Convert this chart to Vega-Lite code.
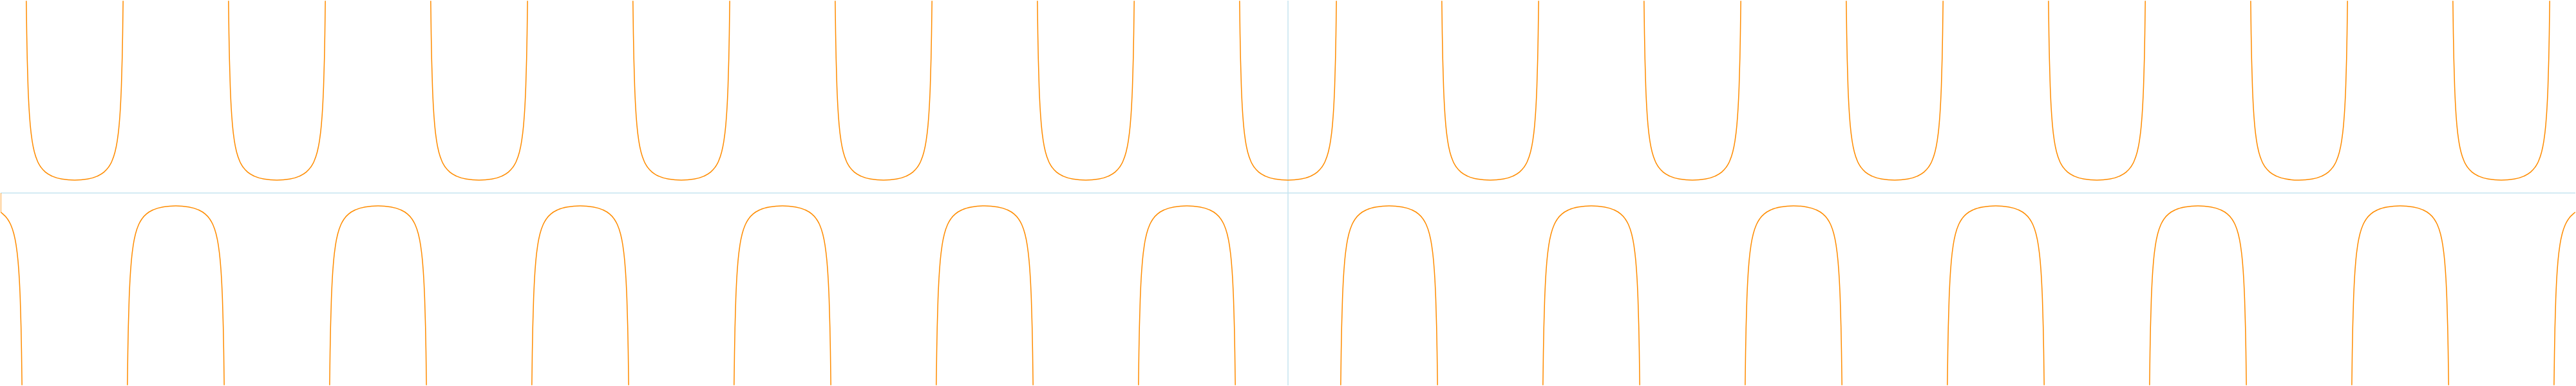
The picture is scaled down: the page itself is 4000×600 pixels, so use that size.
{"$schema":"https://vega.github.io/schema/vega-lite/v6.json","width":4000,"height":600,"autosize":{"type":"fit","contains":"padding"},"padding":0,"background":"white","config":{"view":{"stroke":null}},
"datasets":{"axes":[{"v":0}],"sec":[
{"b":-14,"x":-40,"y":0},{"b":-14,"x":-40,"y":-1.5},
{"b":-13,"x":-40,"y":-1.5},{"b":-13,"x":-39.941,"y":-1.609},{"b":-13,"x":-39.791,"y":-2.01},{"b":-13,"x":-39.691,"y":-2.448},{"b":-13,"x":-39.591,"y":-3.171},{"b":-13,"x":-39.521,"y":-4.029},{"b":-13,"x":-39.461,"y":-5.273},{"b":-13,"x":-39.421,"y":-6.657},{"b":-13,"x":-39.391,"y":-8.299},{"b":-13,"x":-39.366,"y":-10.455},{"b":-13,"x":-39.351,"y":-12.39},{"b":-13,"x":-39.337,"y":-14.982},
{"b":-12,"x":-39.203,"y":14.982},{"b":-12,"x":-39.189,"y":12.39},{"b":-12,"x":-39.174,"y":10.455},{"b":-12,"x":-39.149,"y":8.299},{"b":-12,"x":-39.119,"y":6.657},{"b":-12,"x":-39.079,"y":5.273},{"b":-12,"x":-39.019,"y":4.029},{"b":-12,"x":-38.949,"y":3.171},{"b":-12,"x":-38.849,"y":2.448},{"b":-12,"x":-38.749,"y":2.01},{"b":-12,"x":-38.599,"y":1.609},{"b":-12,"x":-38.399,"y":1.307},{"b":-12,"x":-38.099,"y":1.086},{"b":-12,"x":-37.699,"y":1},{"b":-12,"x":-37.299,"y":1.086},{"b":-12,"x":-36.999,"y":1.307},{"b":-12,"x":-36.799,"y":1.609},{"b":-12,"x":-36.649,"y":2.01},{"b":-12,"x":-36.549,"y":2.448},{"b":-12,"x":-36.449,"y":3.171},{"b":-12,"x":-36.379,"y":4.029},{"b":-12,"x":-36.319,"y":5.273},{"b":-12,"x":-36.279,"y":6.657},{"b":-12,"x":-36.249,"y":8.299},{"b":-12,"x":-36.224,"y":10.455},{"b":-12,"x":-36.209,"y":12.39},{"b":-12,"x":-36.195,"y":14.982},
{"b":-11,"x":-36.062,"y":-14.982},{"b":-11,"x":-36.048,"y":-12.39},{"b":-11,"x":-36.033,"y":-10.455},{"b":-11,"x":-36.008,"y":-8.299},{"b":-11,"x":-35.978,"y":-6.657},{"b":-11,"x":-35.938,"y":-5.273},{"b":-11,"x":-35.878,"y":-4.029},{"b":-11,"x":-35.808,"y":-3.171},{"b":-11,"x":-35.708,"y":-2.448},{"b":-11,"x":-35.608,"y":-2.01},{"b":-11,"x":-35.458,"y":-1.609},{"b":-11,"x":-35.258,"y":-1.307},{"b":-11,"x":-34.958,"y":-1.086},{"b":-11,"x":-34.558,"y":-1},{"b":-11,"x":-34.158,"y":-1.086},{"b":-11,"x":-33.858,"y":-1.307},{"b":-11,"x":-33.658,"y":-1.609},{"b":-11,"x":-33.508,"y":-2.01},{"b":-11,"x":-33.408,"y":-2.448},{"b":-11,"x":-33.308,"y":-3.171},{"b":-11,"x":-33.238,"y":-4.029},{"b":-11,"x":-33.178,"y":-5.273},{"b":-11,"x":-33.138,"y":-6.657},{"b":-11,"x":-33.108,"y":-8.299},{"b":-11,"x":-33.083,"y":-10.455},{"b":-11,"x":-33.068,"y":-12.39},{"b":-11,"x":-33.054,"y":-14.982},
{"b":-10,"x":-32.92,"y":14.982},{"b":-10,"x":-32.906,"y":12.39},{"b":-10,"x":-32.891,"y":10.455},{"b":-10,"x":-32.866,"y":8.299},{"b":-10,"x":-32.836,"y":6.657},{"b":-10,"x":-32.796,"y":5.273},{"b":-10,"x":-32.736,"y":4.029},{"b":-10,"x":-32.666,"y":3.171},{"b":-10,"x":-32.566,"y":2.448},{"b":-10,"x":-32.466,"y":2.01},{"b":-10,"x":-32.316,"y":1.609},{"b":-10,"x":-32.116,"y":1.307},{"b":-10,"x":-31.816,"y":1.086},{"b":-10,"x":-31.416,"y":1},{"b":-10,"x":-31.016,"y":1.086},{"b":-10,"x":-30.716,"y":1.307},{"b":-10,"x":-30.516,"y":1.609},{"b":-10,"x":-30.366,"y":2.01},{"b":-10,"x":-30.266,"y":2.448},{"b":-10,"x":-30.166,"y":3.171},{"b":-10,"x":-30.096,"y":4.029},{"b":-10,"x":-30.036,"y":5.273},{"b":-10,"x":-29.996,"y":6.657},{"b":-10,"x":-29.966,"y":8.299},{"b":-10,"x":-29.941,"y":10.455},{"b":-10,"x":-29.926,"y":12.39},{"b":-10,"x":-29.912,"y":14.982},
{"b":-9,"x":-29.778,"y":-14.982},{"b":-9,"x":-29.764,"y":-12.39},{"b":-9,"x":-29.749,"y":-10.455},{"b":-9,"x":-29.724,"y":-8.299},{"b":-9,"x":-29.694,"y":-6.657},{"b":-9,"x":-29.654,"y":-5.273},{"b":-9,"x":-29.594,"y":-4.029},{"b":-9,"x":-29.524,"y":-3.171},{"b":-9,"x":-29.424,"y":-2.448},{"b":-9,"x":-29.324,"y":-2.01},{"b":-9,"x":-29.174,"y":-1.609},{"b":-9,"x":-28.974,"y":-1.307},{"b":-9,"x":-28.674,"y":-1.086},{"b":-9,"x":-28.274,"y":-1},{"b":-9,"x":-27.874,"y":-1.086},{"b":-9,"x":-27.574,"y":-1.307},{"b":-9,"x":-27.374,"y":-1.609},{"b":-9,"x":-27.224,"y":-2.01},{"b":-9,"x":-27.124,"y":-2.448},{"b":-9,"x":-27.024,"y":-3.171},{"b":-9,"x":-26.954,"y":-4.029},{"b":-9,"x":-26.894,"y":-5.273},{"b":-9,"x":-26.854,"y":-6.657},{"b":-9,"x":-26.824,"y":-8.299},{"b":-9,"x":-26.799,"y":-10.455},{"b":-9,"x":-26.784,"y":-12.39},{"b":-9,"x":-26.77,"y":-14.982},
{"b":-8,"x":-26.637,"y":14.982},{"b":-8,"x":-26.623,"y":12.39},{"b":-8,"x":-26.608,"y":10.455},{"b":-8,"x":-26.583,"y":8.299},{"b":-8,"x":-26.553,"y":6.657},{"b":-8,"x":-26.513,"y":5.273},{"b":-8,"x":-26.453,"y":4.029},{"b":-8,"x":-26.383,"y":3.171},{"b":-8,"x":-26.283,"y":2.448},{"b":-8,"x":-26.183,"y":2.01},{"b":-8,"x":-26.033,"y":1.609},{"b":-8,"x":-25.833,"y":1.307},{"b":-8,"x":-25.533,"y":1.086},{"b":-8,"x":-25.133,"y":1},{"b":-8,"x":-24.733,"y":1.086},{"b":-8,"x":-24.433,"y":1.307},{"b":-8,"x":-24.233,"y":1.609},{"b":-8,"x":-24.083,"y":2.01},{"b":-8,"x":-23.983,"y":2.448},{"b":-8,"x":-23.883,"y":3.171},{"b":-8,"x":-23.813,"y":4.029},{"b":-8,"x":-23.753,"y":5.273},{"b":-8,"x":-23.713,"y":6.657},{"b":-8,"x":-23.683,"y":8.299},{"b":-8,"x":-23.658,"y":10.455},{"b":-8,"x":-23.643,"y":12.39},{"b":-8,"x":-23.629,"y":14.982},
{"b":-7,"x":-23.495,"y":-14.982},{"b":-7,"x":-23.481,"y":-12.39},{"b":-7,"x":-23.466,"y":-10.455},{"b":-7,"x":-23.441,"y":-8.299},{"b":-7,"x":-23.411,"y":-6.657},{"b":-7,"x":-23.371,"y":-5.273},{"b":-7,"x":-23.311,"y":-4.029},{"b":-7,"x":-23.241,"y":-3.171},{"b":-7,"x":-23.141,"y":-2.448},{"b":-7,"x":-23.041,"y":-2.01},{"b":-7,"x":-22.891,"y":-1.609},{"b":-7,"x":-22.691,"y":-1.307},{"b":-7,"x":-22.391,"y":-1.086},{"b":-7,"x":-21.991,"y":-1},{"b":-7,"x":-21.591,"y":-1.086},{"b":-7,"x":-21.291,"y":-1.307},{"b":-7,"x":-21.091,"y":-1.609},{"b":-7,"x":-20.941,"y":-2.01},{"b":-7,"x":-20.841,"y":-2.448},{"b":-7,"x":-20.741,"y":-3.171},{"b":-7,"x":-20.671,"y":-4.029},{"b":-7,"x":-20.611,"y":-5.273},{"b":-7,"x":-20.571,"y":-6.657},{"b":-7,"x":-20.541,"y":-8.299},{"b":-7,"x":-20.516,"y":-10.455},{"b":-7,"x":-20.501,"y":-12.39},{"b":-7,"x":-20.487,"y":-14.982},
{"b":-6,"x":-20.354,"y":14.982},{"b":-6,"x":-20.34,"y":12.39},{"b":-6,"x":-20.325,"y":10.455},{"b":-6,"x":-20.3,"y":8.299},{"b":-6,"x":-20.27,"y":6.657},{"b":-6,"x":-20.23,"y":5.273},{"b":-6,"x":-20.17,"y":4.029},{"b":-6,"x":-20.1,"y":3.171},{"b":-6,"x":-20.0,"y":2.448},{"b":-6,"x":-19.9,"y":2.01},{"b":-6,"x":-19.75,"y":1.609},{"b":-6,"x":-19.55,"y":1.307},{"b":-6,"x":-19.25,"y":1.086},{"b":-6,"x":-18.85,"y":1},{"b":-6,"x":-18.45,"y":1.086},{"b":-6,"x":-18.15,"y":1.307},{"b":-6,"x":-17.95,"y":1.609},{"b":-6,"x":-17.8,"y":2.01},{"b":-6,"x":-17.7,"y":2.448},{"b":-6,"x":-17.6,"y":3.171},{"b":-6,"x":-17.53,"y":4.029},{"b":-6,"x":-17.47,"y":5.273},{"b":-6,"x":-17.43,"y":6.657},{"b":-6,"x":-17.4,"y":8.299},{"b":-6,"x":-17.375,"y":10.455},{"b":-6,"x":-17.36,"y":12.39},{"b":-6,"x":-17.346,"y":14.982},
{"b":-5,"x":-17.212,"y":-14.982},{"b":-5,"x":-17.198,"y":-12.39},{"b":-5,"x":-17.183,"y":-10.455},{"b":-5,"x":-17.158,"y":-8.299},{"b":-5,"x":-17.128,"y":-6.657},{"b":-5,"x":-17.088,"y":-5.273},{"b":-5,"x":-17.028,"y":-4.029},{"b":-5,"x":-16.958,"y":-3.171},{"b":-5,"x":-16.858,"y":-2.448},{"b":-5,"x":-16.758,"y":-2.01},{"b":-5,"x":-16.608,"y":-1.609},{"b":-5,"x":-16.408,"y":-1.307},{"b":-5,"x":-16.108,"y":-1.086},{"b":-5,"x":-15.708,"y":-1},{"b":-5,"x":-15.308,"y":-1.086},{"b":-5,"x":-15.008,"y":-1.307},{"b":-5,"x":-14.808,"y":-1.609},{"b":-5,"x":-14.658,"y":-2.01},{"b":-5,"x":-14.558,"y":-2.448},{"b":-5,"x":-14.458,"y":-3.171},{"b":-5,"x":-14.388,"y":-4.029},{"b":-5,"x":-14.328,"y":-5.273},{"b":-5,"x":-14.288,"y":-6.657},{"b":-5,"x":-14.258,"y":-8.299},{"b":-5,"x":-14.233,"y":-10.455},{"b":-5,"x":-14.218,"y":-12.39},{"b":-5,"x":-14.204,"y":-14.982},
{"b":-4,"x":-14.07,"y":14.982},{"b":-4,"x":-14.056,"y":12.39},{"b":-4,"x":-14.041,"y":10.455},{"b":-4,"x":-14.016,"y":8.299},{"b":-4,"x":-13.986,"y":6.657},{"b":-4,"x":-13.946,"y":5.273},{"b":-4,"x":-13.886,"y":4.029},{"b":-4,"x":-13.816,"y":3.171},{"b":-4,"x":-13.716,"y":2.448},{"b":-4,"x":-13.616,"y":2.01},{"b":-4,"x":-13.466,"y":1.609},{"b":-4,"x":-13.266,"y":1.307},{"b":-4,"x":-12.966,"y":1.086},{"b":-4,"x":-12.566,"y":1},{"b":-4,"x":-12.166,"y":1.086},{"b":-4,"x":-11.866,"y":1.307},{"b":-4,"x":-11.666,"y":1.609},{"b":-4,"x":-11.516,"y":2.01},{"b":-4,"x":-11.416,"y":2.448},{"b":-4,"x":-11.316,"y":3.171},{"b":-4,"x":-11.246,"y":4.029},{"b":-4,"x":-11.186,"y":5.273},{"b":-4,"x":-11.146,"y":6.657},{"b":-4,"x":-11.116,"y":8.299},{"b":-4,"x":-11.091,"y":10.455},{"b":-4,"x":-11.076,"y":12.39},{"b":-4,"x":-11.062,"y":14.982},
{"b":-3,"x":-10.929,"y":-14.982},{"b":-3,"x":-10.915,"y":-12.39},{"b":-3,"x":-10.9,"y":-10.455},{"b":-3,"x":-10.875,"y":-8.299},{"b":-3,"x":-10.845,"y":-6.657},{"b":-3,"x":-10.805,"y":-5.273},{"b":-3,"x":-10.745,"y":-4.029},{"b":-3,"x":-10.675,"y":-3.171},{"b":-3,"x":-10.575,"y":-2.448},{"b":-3,"x":-10.475,"y":-2.01},{"b":-3,"x":-10.325,"y":-1.609},{"b":-3,"x":-10.125,"y":-1.307},{"b":-3,"x":-9.825,"y":-1.086},{"b":-3,"x":-9.425,"y":-1},{"b":-3,"x":-9.025,"y":-1.086},{"b":-3,"x":-8.725,"y":-1.307},{"b":-3,"x":-8.525,"y":-1.609},{"b":-3,"x":-8.375,"y":-2.01},{"b":-3,"x":-8.275,"y":-2.448},{"b":-3,"x":-8.175,"y":-3.171},{"b":-3,"x":-8.105,"y":-4.029},{"b":-3,"x":-8.045,"y":-5.273},{"b":-3,"x":-8.005,"y":-6.657},{"b":-3,"x":-7.975,"y":-8.299},{"b":-3,"x":-7.95,"y":-10.455},{"b":-3,"x":-7.935,"y":-12.39},{"b":-3,"x":-7.921,"y":-14.982},
{"b":-2,"x":-7.787,"y":14.982},{"b":-2,"x":-7.773,"y":12.39},{"b":-2,"x":-7.758,"y":10.455},{"b":-2,"x":-7.733,"y":8.299},{"b":-2,"x":-7.703,"y":6.657},{"b":-2,"x":-7.663,"y":5.273},{"b":-2,"x":-7.603,"y":4.029},{"b":-2,"x":-7.533,"y":3.171},{"b":-2,"x":-7.433,"y":2.448},{"b":-2,"x":-7.333,"y":2.01},{"b":-2,"x":-7.183,"y":1.609},{"b":-2,"x":-6.983,"y":1.307},{"b":-2,"x":-6.683,"y":1.086},{"b":-2,"x":-6.283,"y":1},{"b":-2,"x":-5.883,"y":1.086},{"b":-2,"x":-5.583,"y":1.307},{"b":-2,"x":-5.383,"y":1.609},{"b":-2,"x":-5.233,"y":2.01},{"b":-2,"x":-5.133,"y":2.448},{"b":-2,"x":-5.033,"y":3.171},{"b":-2,"x":-4.963,"y":4.029},{"b":-2,"x":-4.903,"y":5.273},{"b":-2,"x":-4.863,"y":6.657},{"b":-2,"x":-4.833,"y":8.299},{"b":-2,"x":-4.808,"y":10.455},{"b":-2,"x":-4.793,"y":12.39},{"b":-2,"x":-4.779,"y":14.982},
{"b":-1,"x":-4.646,"y":-14.982},{"b":-1,"x":-4.632,"y":-12.39},{"b":-1,"x":-4.617,"y":-10.455},{"b":-1,"x":-4.592,"y":-8.299},{"b":-1,"x":-4.562,"y":-6.657},{"b":-1,"x":-4.522,"y":-5.273},{"b":-1,"x":-4.462,"y":-4.029},{"b":-1,"x":-4.392,"y":-3.171},{"b":-1,"x":-4.292,"y":-2.448},{"b":-1,"x":-4.192,"y":-2.01},{"b":-1,"x":-4.042,"y":-1.609},{"b":-1,"x":-3.842,"y":-1.307},{"b":-1,"x":-3.542,"y":-1.086},{"b":-1,"x":-3.142,"y":-1},{"b":-1,"x":-2.742,"y":-1.086},{"b":-1,"x":-2.442,"y":-1.307},{"b":-1,"x":-2.242,"y":-1.609},{"b":-1,"x":-2.092,"y":-2.01},{"b":-1,"x":-1.992,"y":-2.448},{"b":-1,"x":-1.892,"y":-3.171},{"b":-1,"x":-1.822,"y":-4.029},{"b":-1,"x":-1.762,"y":-5.273},{"b":-1,"x":-1.722,"y":-6.657},{"b":-1,"x":-1.692,"y":-8.299},{"b":-1,"x":-1.667,"y":-10.455},{"b":-1,"x":-1.652,"y":-12.39},{"b":-1,"x":-1.638,"y":-14.982},
{"b":0,"x":-1.504,"y":14.982},{"b":0,"x":-1.49,"y":12.39},{"b":0,"x":-1.475,"y":10.455},{"b":0,"x":-1.45,"y":8.299},{"b":0,"x":-1.42,"y":6.657},{"b":0,"x":-1.38,"y":5.273},{"b":0,"x":-1.32,"y":4.029},{"b":0,"x":-1.25,"y":3.171},{"b":0,"x":-1.15,"y":2.448},{"b":0,"x":-1.05,"y":2.01},{"b":0,"x":-0.9,"y":1.609},{"b":0,"x":-0.7,"y":1.307},{"b":0,"x":-0.4,"y":1.086},{"b":0,"x":0,"y":1},{"b":0,"x":0.4,"y":1.086},{"b":0,"x":0.7,"y":1.307},{"b":0,"x":0.9,"y":1.609},{"b":0,"x":1.05,"y":2.01},{"b":0,"x":1.15,"y":2.448},{"b":0,"x":1.25,"y":3.171},{"b":0,"x":1.32,"y":4.029},{"b":0,"x":1.38,"y":5.273},{"b":0,"x":1.42,"y":6.657},{"b":0,"x":1.45,"y":8.299},{"b":0,"x":1.475,"y":10.455},{"b":0,"x":1.49,"y":12.39},{"b":0,"x":1.504,"y":14.982},
{"b":1,"x":1.638,"y":-14.982},{"b":1,"x":1.652,"y":-12.39},{"b":1,"x":1.667,"y":-10.455},{"b":1,"x":1.692,"y":-8.299},{"b":1,"x":1.722,"y":-6.657},{"b":1,"x":1.762,"y":-5.273},{"b":1,"x":1.822,"y":-4.029},{"b":1,"x":1.892,"y":-3.171},{"b":1,"x":1.992,"y":-2.448},{"b":1,"x":2.092,"y":-2.01},{"b":1,"x":2.242,"y":-1.609},{"b":1,"x":2.442,"y":-1.307},{"b":1,"x":2.742,"y":-1.086},{"b":1,"x":3.142,"y":-1},{"b":1,"x":3.542,"y":-1.086},{"b":1,"x":3.842,"y":-1.307},{"b":1,"x":4.042,"y":-1.609},{"b":1,"x":4.192,"y":-2.01},{"b":1,"x":4.292,"y":-2.448},{"b":1,"x":4.392,"y":-3.171},{"b":1,"x":4.462,"y":-4.029},{"b":1,"x":4.522,"y":-5.273},{"b":1,"x":4.562,"y":-6.657},{"b":1,"x":4.592,"y":-8.299},{"b":1,"x":4.617,"y":-10.455},{"b":1,"x":4.632,"y":-12.39},{"b":1,"x":4.646,"y":-14.982},
{"b":2,"x":4.779,"y":14.982},{"b":2,"x":4.793,"y":12.39},{"b":2,"x":4.808,"y":10.455},{"b":2,"x":4.833,"y":8.299},{"b":2,"x":4.863,"y":6.657},{"b":2,"x":4.903,"y":5.273},{"b":2,"x":4.963,"y":4.029},{"b":2,"x":5.033,"y":3.171},{"b":2,"x":5.133,"y":2.448},{"b":2,"x":5.233,"y":2.01},{"b":2,"x":5.383,"y":1.609},{"b":2,"x":5.583,"y":1.307},{"b":2,"x":5.883,"y":1.086},{"b":2,"x":6.283,"y":1},{"b":2,"x":6.683,"y":1.086},{"b":2,"x":6.983,"y":1.307},{"b":2,"x":7.183,"y":1.609},{"b":2,"x":7.333,"y":2.01},{"b":2,"x":7.433,"y":2.448},{"b":2,"x":7.533,"y":3.171},{"b":2,"x":7.603,"y":4.029},{"b":2,"x":7.663,"y":5.273},{"b":2,"x":7.703,"y":6.657},{"b":2,"x":7.733,"y":8.299},{"b":2,"x":7.758,"y":10.455},{"b":2,"x":7.773,"y":12.39},{"b":2,"x":7.787,"y":14.982},
{"b":3,"x":7.921,"y":-14.982},{"b":3,"x":7.935,"y":-12.39},{"b":3,"x":7.95,"y":-10.455},{"b":3,"x":7.975,"y":-8.299},{"b":3,"x":8.005,"y":-6.657},{"b":3,"x":8.045,"y":-5.273},{"b":3,"x":8.105,"y":-4.029},{"b":3,"x":8.175,"y":-3.171},{"b":3,"x":8.275,"y":-2.448},{"b":3,"x":8.375,"y":-2.01},{"b":3,"x":8.525,"y":-1.609},{"b":3,"x":8.725,"y":-1.307},{"b":3,"x":9.025,"y":-1.086},{"b":3,"x":9.425,"y":-1},{"b":3,"x":9.825,"y":-1.086},{"b":3,"x":10.125,"y":-1.307},{"b":3,"x":10.325,"y":-1.609},{"b":3,"x":10.475,"y":-2.01},{"b":3,"x":10.575,"y":-2.448},{"b":3,"x":10.675,"y":-3.171},{"b":3,"x":10.745,"y":-4.029},{"b":3,"x":10.805,"y":-5.273},{"b":3,"x":10.845,"y":-6.657},{"b":3,"x":10.875,"y":-8.299},{"b":3,"x":10.9,"y":-10.455},{"b":3,"x":10.915,"y":-12.39},{"b":3,"x":10.929,"y":-14.982},
{"b":4,"x":11.062,"y":14.982},{"b":4,"x":11.076,"y":12.39},{"b":4,"x":11.091,"y":10.455},{"b":4,"x":11.116,"y":8.299},{"b":4,"x":11.146,"y":6.657},{"b":4,"x":11.186,"y":5.273},{"b":4,"x":11.246,"y":4.029},{"b":4,"x":11.316,"y":3.171},{"b":4,"x":11.416,"y":2.448},{"b":4,"x":11.516,"y":2.01},{"b":4,"x":11.666,"y":1.609},{"b":4,"x":11.866,"y":1.307},{"b":4,"x":12.166,"y":1.086},{"b":4,"x":12.566,"y":1},{"b":4,"x":12.966,"y":1.086},{"b":4,"x":13.266,"y":1.307},{"b":4,"x":13.466,"y":1.609},{"b":4,"x":13.616,"y":2.01},{"b":4,"x":13.716,"y":2.448},{"b":4,"x":13.816,"y":3.171},{"b":4,"x":13.886,"y":4.029},{"b":4,"x":13.946,"y":5.273},{"b":4,"x":13.986,"y":6.657},{"b":4,"x":14.016,"y":8.299},{"b":4,"x":14.041,"y":10.455},{"b":4,"x":14.056,"y":12.39},{"b":4,"x":14.07,"y":14.982},
{"b":5,"x":14.204,"y":-14.982},{"b":5,"x":14.218,"y":-12.39},{"b":5,"x":14.233,"y":-10.455},{"b":5,"x":14.258,"y":-8.299},{"b":5,"x":14.288,"y":-6.657},{"b":5,"x":14.328,"y":-5.273},{"b":5,"x":14.388,"y":-4.029},{"b":5,"x":14.458,"y":-3.171},{"b":5,"x":14.558,"y":-2.448},{"b":5,"x":14.658,"y":-2.01},{"b":5,"x":14.808,"y":-1.609},{"b":5,"x":15.008,"y":-1.307},{"b":5,"x":15.308,"y":-1.086},{"b":5,"x":15.708,"y":-1},{"b":5,"x":16.108,"y":-1.086},{"b":5,"x":16.408,"y":-1.307},{"b":5,"x":16.608,"y":-1.609},{"b":5,"x":16.758,"y":-2.01},{"b":5,"x":16.858,"y":-2.448},{"b":5,"x":16.958,"y":-3.171},{"b":5,"x":17.028,"y":-4.029},{"b":5,"x":17.088,"y":-5.273},{"b":5,"x":17.128,"y":-6.657},{"b":5,"x":17.158,"y":-8.299},{"b":5,"x":17.183,"y":-10.455},{"b":5,"x":17.198,"y":-12.39},{"b":5,"x":17.212,"y":-14.982},
{"b":6,"x":17.346,"y":14.982},{"b":6,"x":17.36,"y":12.39},{"b":6,"x":17.375,"y":10.455},{"b":6,"x":17.4,"y":8.299},{"b":6,"x":17.43,"y":6.657},{"b":6,"x":17.47,"y":5.273},{"b":6,"x":17.53,"y":4.029},{"b":6,"x":17.6,"y":3.171},{"b":6,"x":17.7,"y":2.448},{"b":6,"x":17.8,"y":2.01},{"b":6,"x":17.95,"y":1.609},{"b":6,"x":18.15,"y":1.307},{"b":6,"x":18.45,"y":1.086},{"b":6,"x":18.85,"y":1},{"b":6,"x":19.25,"y":1.086},{"b":6,"x":19.55,"y":1.307},{"b":6,"x":19.75,"y":1.609},{"b":6,"x":19.9,"y":2.01},{"b":6,"x":20.0,"y":2.448},{"b":6,"x":20.1,"y":3.171},{"b":6,"x":20.17,"y":4.029},{"b":6,"x":20.23,"y":5.273},{"b":6,"x":20.27,"y":6.657},{"b":6,"x":20.3,"y":8.299},{"b":6,"x":20.325,"y":10.455},{"b":6,"x":20.34,"y":12.39},{"b":6,"x":20.354,"y":14.982},
{"b":7,"x":20.487,"y":-14.982},{"b":7,"x":20.501,"y":-12.39},{"b":7,"x":20.516,"y":-10.455},{"b":7,"x":20.541,"y":-8.299},{"b":7,"x":20.571,"y":-6.657},{"b":7,"x":20.611,"y":-5.273},{"b":7,"x":20.671,"y":-4.029},{"b":7,"x":20.741,"y":-3.171},{"b":7,"x":20.841,"y":-2.448},{"b":7,"x":20.941,"y":-2.01},{"b":7,"x":21.091,"y":-1.609},{"b":7,"x":21.291,"y":-1.307},{"b":7,"x":21.591,"y":-1.086},{"b":7,"x":21.991,"y":-1},{"b":7,"x":22.391,"y":-1.086},{"b":7,"x":22.691,"y":-1.307},{"b":7,"x":22.891,"y":-1.609},{"b":7,"x":23.041,"y":-2.01},{"b":7,"x":23.141,"y":-2.448},{"b":7,"x":23.241,"y":-3.171},{"b":7,"x":23.311,"y":-4.029},{"b":7,"x":23.371,"y":-5.273},{"b":7,"x":23.411,"y":-6.657},{"b":7,"x":23.441,"y":-8.299},{"b":7,"x":23.466,"y":-10.455},{"b":7,"x":23.481,"y":-12.39},{"b":7,"x":23.495,"y":-14.982},
{"b":8,"x":23.629,"y":14.982},{"b":8,"x":23.643,"y":12.39},{"b":8,"x":23.658,"y":10.455},{"b":8,"x":23.683,"y":8.299},{"b":8,"x":23.713,"y":6.657},{"b":8,"x":23.753,"y":5.273},{"b":8,"x":23.813,"y":4.029},{"b":8,"x":23.883,"y":3.171},{"b":8,"x":23.983,"y":2.448},{"b":8,"x":24.083,"y":2.01},{"b":8,"x":24.233,"y":1.609},{"b":8,"x":24.433,"y":1.307},{"b":8,"x":24.733,"y":1.086},{"b":8,"x":25.133,"y":1},{"b":8,"x":25.533,"y":1.086},{"b":8,"x":25.833,"y":1.307},{"b":8,"x":26.033,"y":1.609},{"b":8,"x":26.183,"y":2.01},{"b":8,"x":26.283,"y":2.448},{"b":8,"x":26.383,"y":3.171},{"b":8,"x":26.453,"y":4.029},{"b":8,"x":26.513,"y":5.273},{"b":8,"x":26.553,"y":6.657},{"b":8,"x":26.583,"y":8.299},{"b":8,"x":26.608,"y":10.455},{"b":8,"x":26.623,"y":12.39},{"b":8,"x":26.637,"y":14.982},
{"b":9,"x":26.77,"y":-14.982},{"b":9,"x":26.784,"y":-12.39},{"b":9,"x":26.799,"y":-10.455},{"b":9,"x":26.824,"y":-8.299},{"b":9,"x":26.854,"y":-6.657},{"b":9,"x":26.894,"y":-5.273},{"b":9,"x":26.954,"y":-4.029},{"b":9,"x":27.024,"y":-3.171},{"b":9,"x":27.124,"y":-2.448},{"b":9,"x":27.224,"y":-2.01},{"b":9,"x":27.374,"y":-1.609},{"b":9,"x":27.574,"y":-1.307},{"b":9,"x":27.874,"y":-1.086},{"b":9,"x":28.274,"y":-1},{"b":9,"x":28.674,"y":-1.086},{"b":9,"x":28.974,"y":-1.307},{"b":9,"x":29.174,"y":-1.609},{"b":9,"x":29.324,"y":-2.01},{"b":9,"x":29.424,"y":-2.448},{"b":9,"x":29.524,"y":-3.171},{"b":9,"x":29.594,"y":-4.029},{"b":9,"x":29.654,"y":-5.273},{"b":9,"x":29.694,"y":-6.657},{"b":9,"x":29.724,"y":-8.299},{"b":9,"x":29.749,"y":-10.455},{"b":9,"x":29.764,"y":-12.39},{"b":9,"x":29.778,"y":-14.982},
{"b":10,"x":29.912,"y":14.982},{"b":10,"x":29.926,"y":12.39},{"b":10,"x":29.941,"y":10.455},{"b":10,"x":29.966,"y":8.299},{"b":10,"x":29.996,"y":6.657},{"b":10,"x":30.036,"y":5.273},{"b":10,"x":30.096,"y":4.029},{"b":10,"x":30.166,"y":3.171},{"b":10,"x":30.266,"y":2.448},{"b":10,"x":30.366,"y":2.01},{"b":10,"x":30.516,"y":1.609},{"b":10,"x":30.716,"y":1.307},{"b":10,"x":31.016,"y":1.086},{"b":10,"x":31.416,"y":1},{"b":10,"x":31.816,"y":1.086},{"b":10,"x":32.116,"y":1.307},{"b":10,"x":32.316,"y":1.609},{"b":10,"x":32.466,"y":2.01},{"b":10,"x":32.566,"y":2.448},{"b":10,"x":32.666,"y":3.171},{"b":10,"x":32.736,"y":4.029},{"b":10,"x":32.796,"y":5.273},{"b":10,"x":32.836,"y":6.657},{"b":10,"x":32.866,"y":8.299},{"b":10,"x":32.891,"y":10.455},{"b":10,"x":32.906,"y":12.39},{"b":10,"x":32.92,"y":14.982},
{"b":11,"x":33.054,"y":-14.982},{"b":11,"x":33.068,"y":-12.39},{"b":11,"x":33.083,"y":-10.455},{"b":11,"x":33.108,"y":-8.299},{"b":11,"x":33.138,"y":-6.657},{"b":11,"x":33.178,"y":-5.273},{"b":11,"x":33.238,"y":-4.029},{"b":11,"x":33.308,"y":-3.171},{"b":11,"x":33.408,"y":-2.448},{"b":11,"x":33.508,"y":-2.01},{"b":11,"x":33.658,"y":-1.609},{"b":11,"x":33.858,"y":-1.307},{"b":11,"x":34.158,"y":-1.086},{"b":11,"x":34.558,"y":-1},{"b":11,"x":34.958,"y":-1.086},{"b":11,"x":35.258,"y":-1.307},{"b":11,"x":35.458,"y":-1.609},{"b":11,"x":35.608,"y":-2.01},{"b":11,"x":35.708,"y":-2.448},{"b":11,"x":35.808,"y":-3.171},{"b":11,"x":35.878,"y":-4.029},{"b":11,"x":35.938,"y":-5.273},{"b":11,"x":35.978,"y":-6.657},{"b":11,"x":36.008,"y":-8.299},{"b":11,"x":36.033,"y":-10.455},{"b":11,"x":36.048,"y":-12.39},{"b":11,"x":36.062,"y":-14.982},
{"b":12,"x":36.195,"y":14.982},{"b":12,"x":36.209,"y":12.39},{"b":12,"x":36.224,"y":10.455},{"b":12,"x":36.249,"y":8.299},{"b":12,"x":36.279,"y":6.657},{"b":12,"x":36.319,"y":5.273},{"b":12,"x":36.379,"y":4.029},{"b":12,"x":36.449,"y":3.171},{"b":12,"x":36.549,"y":2.448},{"b":12,"x":36.649,"y":2.01},{"b":12,"x":36.799,"y":1.609},{"b":12,"x":36.999,"y":1.307},{"b":12,"x":37.299,"y":1.086},{"b":12,"x":37.699,"y":1},{"b":12,"x":38.099,"y":1.086},{"b":12,"x":38.399,"y":1.307},{"b":12,"x":38.599,"y":1.609},{"b":12,"x":38.749,"y":2.01},{"b":12,"x":38.849,"y":2.448},{"b":12,"x":38.949,"y":3.171},{"b":12,"x":39.019,"y":4.029},{"b":12,"x":39.079,"y":5.273},{"b":12,"x":39.119,"y":6.657},{"b":12,"x":39.149,"y":8.299},{"b":12,"x":39.174,"y":10.455},{"b":12,"x":39.189,"y":12.39},{"b":12,"x":39.203,"y":14.982},
{"b":13,"x":39.337,"y":-14.982},{"b":13,"x":39.351,"y":-12.39},{"b":13,"x":39.366,"y":-10.455},{"b":13,"x":39.391,"y":-8.299},{"b":13,"x":39.421,"y":-6.657},{"b":13,"x":39.461,"y":-5.273},{"b":13,"x":39.521,"y":-4.029},{"b":13,"x":39.591,"y":-3.171},{"b":13,"x":39.691,"y":-2.448},{"b":13,"x":39.791,"y":-2.01},{"b":13,"x":39.941,"y":-1.609},{"b":13,"x":40,"y":-1.5}
]},
"layer":[
{"data":{"name":"axes"},"mark":{"type":"rule","color":"#c4e4f0","strokeWidth":1.5},"encoding":{"x":{"field":"v","type":"quantitative","scale":{"domain":[-40,40],"nice":false,"zero":false},"axis":null}}},
{"data":{"name":"axes"},"mark":{"type":"rule","color":"#c4e4f0","strokeWidth":1.5},"encoding":{"y":{"field":"v","type":"quantitative","scale":{"domain":[-15,15],"nice":false,"zero":false},"axis":null}}},
{"data":{"name":"sec"},"mark":{"type":"line","color":"#ff8c00","strokeWidth":1.5,"interpolate":"monotone","clip":true},"encoding":{"x":{"field":"x","type":"quantitative","scale":{"domain":[-40,40],"nice":false,"zero":false},"axis":null},"y":{"field":"y","type":"quantitative","scale":{"domain":[-15,15],"nice":false,"zero":false},"axis":null},"detail":{"field":"b","type":"nominal"}}}
]}
